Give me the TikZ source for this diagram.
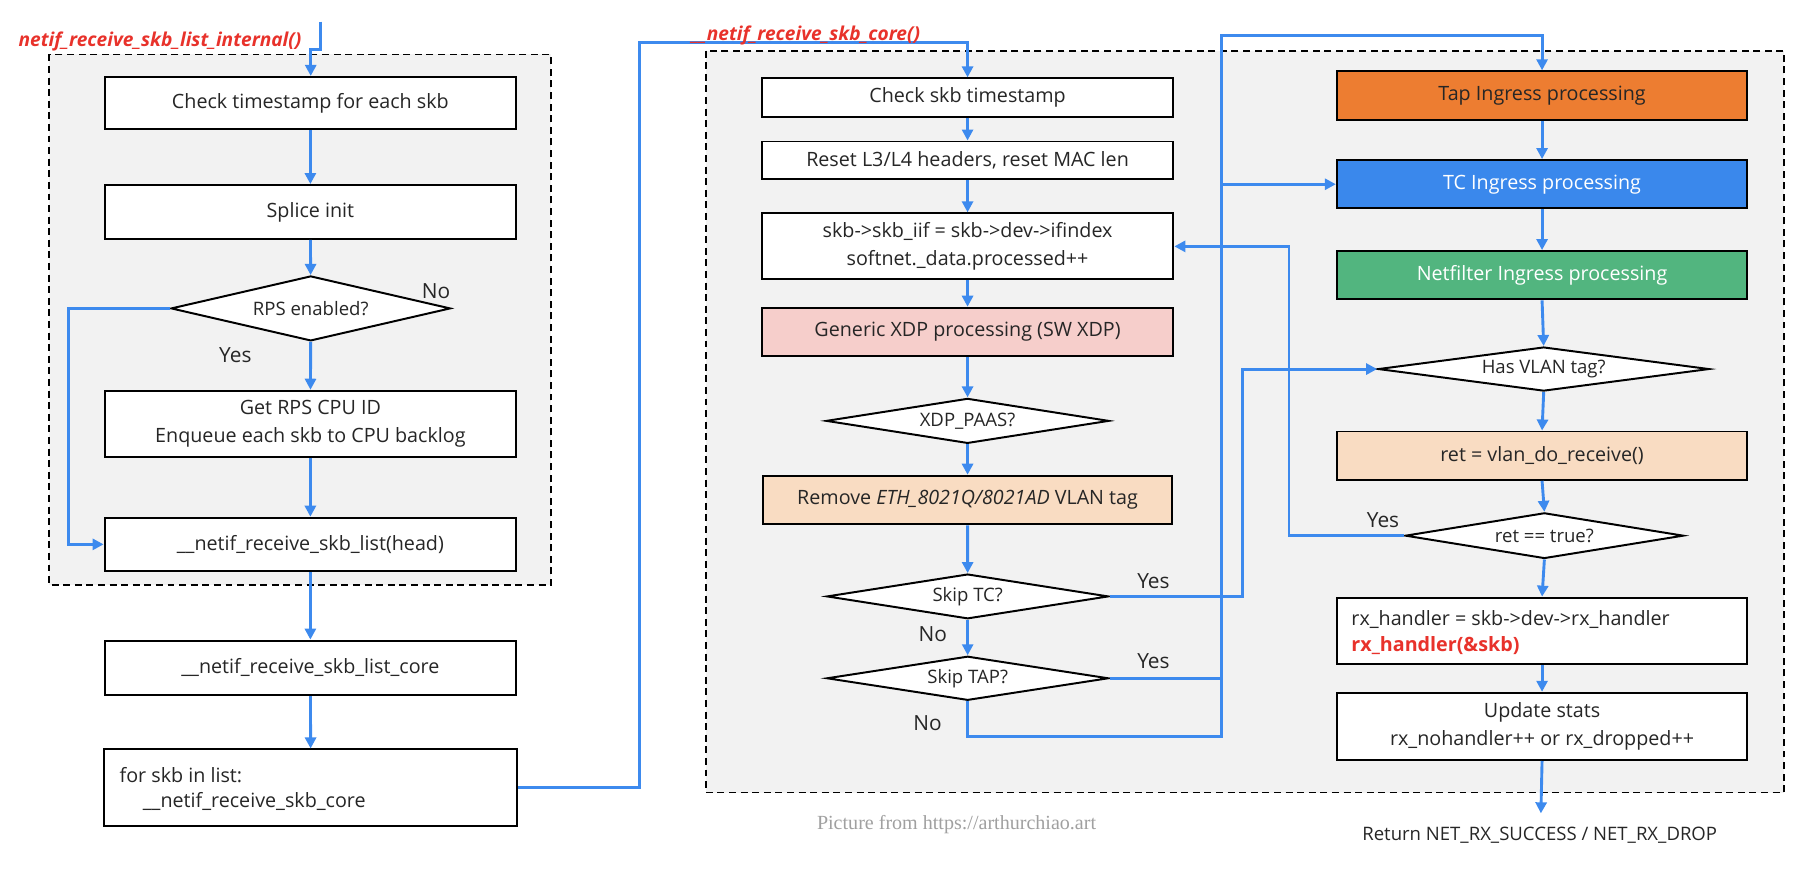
\documentclass[tikz,border=0pt]{standalone}
\usepackage{fontspec}
\setmainfont{Open Sans}
\newfontfamily\creditfont{Liberation Serif}
\usetikzlibrary{shapes.geometric,arrows.meta,backgrounds}
\definecolor{flow}{HTML}{3D8AEE}
\definecolor{regionbg}{HTML}{F2F2F2}
\definecolor{tapc}{HTML}{ED7D31}
\definecolor{tcc}{HTML}{3A88EC}
\definecolor{nfc}{HTML}{52B57F}
\definecolor{xdpc}{HTML}{F6CECB}
\definecolor{peachc}{HTML}{F9DCC2}
\definecolor{titlered}{HTML}{E8322B}
\definecolor{creditgray}{HTML}{A0A0A0}
\newcommand{\fsbox}{\fontsize{17}{24}\selectfont}
\newcommand{\fsdia}{\fontsize{16}{20}\selectfont}
\newcommand{\fslab}{\fontsize{18}{22}\selectfont}
\newcommand{\fstitle}{\fontsize{16.5}{20}\selectfont}
\begin{document}
\begin{tikzpicture}[x=1pt,y=-1pt,
  box/.style={draw=black, line width=1.7pt, fill=white, inner sep=0pt,
    minimum width=355pt, align=center, font=\fsbox, text=black!85},
  dia/.style={diamond, draw=black, line width=1.7pt, fill=white, inner sep=0pt,
    font=\fsdia, text=black!85},
  lab/.style={font=\fslab, text=black!85, inner sep=0pt},
  flowarrow/.style={draw=flow, line width=2.5pt, -{Triangle[length=9.5pt,width=9.5pt]}},
  region/.style={draw=black, line width=1.5pt, dash pattern=on 6pt off 4pt, fill=regionbg}
]
\useasboundingbox (0,0) rectangle (1568,757.3);

% ---------- left column ----------
\node[box, minimum height=45.5pt] (b1) at (267.7,88.8) {Check timestamp for each skb};
\node[box, minimum height=46.4pt] (b2) at (267.7,182.8) {Splice init};
\node[dia, minimum width=241pt, minimum height=56pt, shape aspect=4.3] (rps) at (268,266) {RPS enabled?};
\node[box, minimum height=57pt] (b3) at (267.7,365.5) {Get RPS CPU ID\\Enqueue each skb to CPU backlog};
\node[box, minimum height=46pt] (b4) at (267.7,469.5) {\_\_netif\_receive\_skb\_list(head)};
\node[box, minimum height=47pt] (b5) at (267.7,576) {\_\_netif\_receive\_skb\_list\_core};
\node[box, minimum height=66pt, minimum width=356pt] (b6) at (268,679.4) {};
\node[font=\fsbox, text=black!85, anchor=west, inner sep=0pt] (b6a) at (103,668.5) {for skb in list:};
\node[font=\fsbox, text=black!85, anchor=west, inner sep=0pt] (b6b) at (123,691.5) {\_\_netif\_receive\_skb\_core};

% ---------- middle column ----------
\node[box, minimum height=33pt] (c1) at (834.5,84.1) {Check skb timestamp};
\node[box, minimum height=32.7pt] (c2) at (834.5,138.4) {Reset L3/L4 headers, reset MAC len};
\node[box, minimum height=57pt] (c3) at (834.5,212.5) {skb->skb\_iif = skb->dev->ifindex\\softnet.\_data.processed++};
\node[box, minimum height=41.6pt, fill=xdpc] (c4) at (834.5,286.2) {Generic XDP processing (SW XDP)};
\node[dia, minimum width=244pt, minimum height=38.8pt, shape aspect=6.3] (xdp) at (834.5,363) {XDP\_PAAS?};
\node[box, minimum height=42pt, minimum width=353pt, fill=peachc] (c5) at (834.5,431.3) {Remove \textit{ETH\_8021Q/8021AD} VLAN tag};
\node[dia, minimum width=243pt, minimum height=38.6pt, shape aspect=6.3] (skiptc) at (834.6,514.4) {Skip TC?};
\node[dia, minimum width=243pt, minimum height=38pt, shape aspect=6.4] (skiptap) at (834.6,585) {Skip TAP?};

% ---------- right column ----------
\node[box, minimum height=42pt, minimum width=354pt, fill=tapc] (r1) at (1330,82.5) {Tap Ingress processing};
\node[box, minimum height=41.7pt, minimum width=354pt, fill=tcc, text=white] (r2) at (1330,158.9) {TC Ingress processing};
\node[box, minimum height=41.7pt, minimum width=354pt, fill=nfc, text=white] (r3) at (1330,237.4) {Netfilter Ingress processing};
\node[dia, minimum width=285.6pt, minimum height=38pt, shape aspect=7.5] (vlan) at (1331.4,318.3) {Has VLAN tag?};
\node[box, minimum height=41.7pt, minimum width=354pt, fill=peachc] (r4) at (1330,393) {ret = vlan\_do\_receive()};
\node[dia, minimum width=240pt, minimum height=39.4pt, shape aspect=6.1] (ret) at (1332,462) {ret == true?};
\node[box, minimum height=57.5pt, minimum width=354pt] (r5) at (1330,544.2) {};
\node[font=\fsbox, text=black!85, anchor=west, inner sep=0pt] (r5a) at (1165.4,533.9) {rx\_handler = skb->dev->rx\_handler};
\node[font=\fsbox\bfseries, text=titlered, anchor=west, inner sep=0pt] (r5b) at (1165.4,557.2) {rx\_handler(\&skb)};
\node[box, minimum height=58pt, minimum width=354pt] (r6) at (1330,626.5) {Update stats\\rx\_nohandler++ or rx\_dropped++};

% ---------- background regions ----------
\begin{scope}[on background layer]
\draw[region] (42.2,46.9) rectangle (475.3,504.6);
\draw[region] (608.7,43.7) rectangle (1538.5,683.6);
\end{scope}

% ---------- connectors ----------
\coordinate (in0) at (276.5,18.7);
\coordinate (out0) at (1329,701.5);
\draw[flowarrow] (in0) -- (276.5,42.5) -- (268,42.5) -- (268,65.5);
\draw[flowarrow] (b1) -- (b2);
\draw[flowarrow] (b2) -- (rps);
\draw[flowarrow] (rps) -- (b3);
\draw[flowarrow] (b3) -- (b4);
\draw[flowarrow] (rps.west) -| (59.4,469.5) -- (b4.west);
\draw[flowarrow] (b4) -- (b5);
\draw[flowarrow] (b5) -- (b6);
\draw[flowarrow] (b6.east) -| (551.5,36.5) -| (c1.north);

\draw[flowarrow] (c1) -- (c2);
\draw[flowarrow] (c2) -- (c3);
\draw[flowarrow] (c3) -- (c4);
\draw[flowarrow] (c4) -- (xdp);
\draw[flowarrow] (xdp) -- (c5);
\draw[flowarrow] (c5) -- (skiptc);
\draw[flowarrow] (skiptc) -- (skiptap);
\draw[flowarrow] (skiptc.east) -| (1071.6,318.3) -- (vlan.west);
\draw[flowarrow] (skiptap.east) -| (1053.8,158.9) -- (r2.west);
\draw[flowarrow] (skiptap.south) |- (1053.8,635.4) |- (1330,30.8) -- (r1.north);

\draw[flowarrow] (r1) -- (r2);
\draw[flowarrow] (r2) -- (r3);
\draw[flowarrow] (r3.south) -- (vlan.north);
\draw[flowarrow] (vlan.south) -- (r4.north);
\draw[flowarrow] (r4.south) -- (ret.north);
\draw[flowarrow] (ret.south) -- (r5.north);
\draw[flowarrow] (r5) -- (r6);
\draw[flowarrow] (ret.west) -| (1111.7,212.5) -- (c3.east);
\draw[flowarrow] (r6.south) -- (out0);

% ---------- labels ----------
\node[lab] (lno1) at (376,251) {No};
\node[lab] (lyes1) at (203,306) {Yes};
\node[lab] (lyes2) at (994.8,500.8) {Yes};
\node[lab] (lno2) at (804.6,547) {No};
\node[lab] (lyes3) at (994.8,569.8) {Yes};
\node[lab] (lno3) at (800,623.3) {No};
\node[lab] (lyes4) at (1192.8,448.5) {Yes};

\node[font=\fstitle\bfseries\itshape, text=titlered, inner sep=0pt] (t1) at (138,36) {netif\_receive\_skb\_list\_internal()};
\node[font=\fstitle\bfseries\itshape, text=titlered, inner sep=0pt] (t2) at (695,31) {\_\_netif\_receive\_skb\_core()};
\node[font=\fsdia, text=black!85, inner sep=0pt] (rettext) at (1328,720) {Return NET\_RX\_SUCCESS / NET\_RX\_DROP};
\node[font=\creditfont\fontsize{17.3}{20}\selectfont, text=creditgray, inner sep=0pt] (credit) at (825,711.6) {Picture from https://arthurchiao.art};
\end{tikzpicture}
\end{document}
